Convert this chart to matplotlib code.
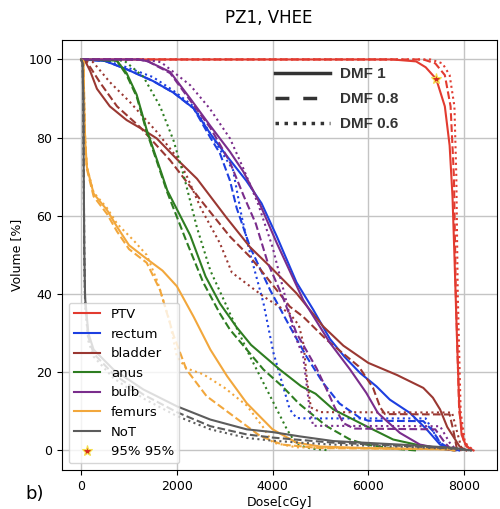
import matplotlib
matplotlib.use('Agg')
import matplotlib.pyplot as plt
from matplotlib.lines import Line2D

# DVH curves: dose [cGy] and volume [%] for DMF 1 / 0.8 / 0.6
ptv_d1 = [0, 6500, 7000, 7200, 7420, 7600, 7700, 7760, 7800, 7850, 7900, 7950, 8050, 8200]
ptv_v1 = [100, 100, 99.5, 98, 95, 88, 78, 65, 50, 30, 12, 4, 1, 0]
ptv_d08 = [0, 7150, 7400, 7600, 7720, 7790, 7830, 7900, 8000, 8150]
ptv_v08 = [100, 100, 99, 96, 88, 70, 40, 10, 2, 0]
ptv_d06 = [0, 7300, 7550, 7700, 7800, 7840, 7870, 7930, 8020, 8200]
ptv_v06 = [100, 100, 99, 96, 88, 70, 40, 10, 2, 0]

rectum_d1 = [0, 500, 950, 1500, 1930, 2350, 2700, 3000, 3450, 3770, 4090, 4500, 4850, 5200, 5500, 5830, 6170, 6450, 6870, 7220, 7500, 7700, 7900]
rectum_v1 = [100, 99.6, 97.5, 94.5, 91.5, 87.5, 81, 76, 69, 63.2, 54.7, 43, 36, 28.5, 24, 19.8, 16.4, 13, 9.6, 5.4, 1.5, 0.6, 0]
rectum_d08 = [0, 500, 950, 1500, 1930, 2350, 2700, 2900, 3110, 3250, 3530, 3950, 4360, 4710, 5060, 5400, 5830, 6000, 7150, 7350, 7500, 7700, 7850]
rectum_v08 = [100, 99.6, 97.5, 94.5, 91.5, 87.5, 80, 76, 69, 62, 52, 41, 31.7, 24, 17.2, 12, 8.3, 7.6, 7.5, 5, 2, 0.5, 0]
rectum_d06 = [0, 500, 950, 1500, 1930, 2350, 2700, 2900, 3175, 3355, 3530, 3810, 4020, 4220, 4360, 4500, 4700, 7200, 7350, 7550, 7750]
rectum_v06 = [100, 99.8, 98, 95.5, 92, 88, 81, 77, 71.7, 59.8, 50.4, 37.7, 24.9, 16.4, 10.5, 8.3, 8.2, 8.2, 5, 1, 0]

bladder_d1 = [0, 80, 190, 330, 600, 950, 1300, 1580, 2000, 2420, 3040, 3530, 3950, 4500, 5060, 5480, 6000, 6600, 7150, 7350, 7500, 7650, 7780, 7910, 8050]
bladder_v1 = [100, 99.7, 97, 92.5, 88, 84.5, 82, 79.8, 74.5, 69.5, 59.5, 52, 47, 40.2, 31.7, 26.8, 22.4, 19.3, 16, 13.5, 10.5, 6, 3.5, 1, 0]
bladder_d08 = [0, 100, 190, 400, 750, 1230, 1860, 2500, 3110, 3530, 3810, 4360, 4640, 5130, 5800, 6100, 6250, 6350, 7700, 7780, 7850, 7950]
bladder_v08 = [100, 99.5, 98, 94, 88, 82.7, 74.2, 64, 54.7, 49.5, 45.3, 36.8, 34.2, 28.3, 21.5, 16, 11, 9.3, 9.2, 5, 0.5, 0]
bladder_d06 = [0, 250, 600, 1020, 1580, 2000, 2200, 2500, 2900, 3150, 3810, 4360, 4550, 4650, 4720, 4800, 5000, 7750, 7850, 7950, 8050]
bladder_v06 = [100, 99.3, 94.2, 89.1, 81.5, 75, 70.4, 62, 53, 45.5, 39.4, 35, 32, 27, 18, 11, 9.8, 9.7, 5, 0.5, 0]

anus_d1 = [0, 745, 950, 1160, 1370, 1580, 1800, 2280, 2600, 2900, 3250, 3550, 4150, 4600, 4900, 5270, 5960, 6520, 7000, 7500, 7800]
anus_v1 = [100, 99.7, 96.5, 91, 82, 74.5, 66.5, 55, 44.5, 37.6, 31.5, 27, 20.7, 16.4, 14.5, 10.5, 6.2, 2.8, 1.5, 0.5, 0]
anus_d08 = [0, 745, 950, 1160, 1370, 1580, 1800, 2200, 2550, 2900, 3110, 3460, 3810, 4220, 4550, 5130, 5620, 5960, 6500, 7000]
anus_v08 = [100, 99.7, 96, 90.5, 81.5, 74, 66, 53.5, 43, 35, 30.9, 25.8, 20.7, 16.2, 12, 6.2, 2.8, 1.5, 0.5, 0]
anus_d06 = [0, 900, 1300, 1650, 1930, 2140, 2420, 2700, 3000, 3110, 3530, 3950, 4300, 4500, 4800, 5200]
anus_v06 = [100, 99.7, 95.6, 88, 79.3, 70.5, 57, 46, 38, 35, 24, 13.9, 5.4, 1.5, 0.5, 0]

bulb_d1 = [0, 1200, 1400, 1860, 2280, 2700, 3110, 3390, 3700, 4090, 4640, 5200, 5620, 5960, 6200, 6660, 7080, 7500, 7800]
bulb_v1 = [100, 100, 99.5, 96.8, 90, 83, 76.4, 71.3, 64, 53, 38.5, 27.5, 20.7, 14.7, 9.6, 4.5, 1.5, 0.5, 0]
bulb_d08 = [0, 1200, 1400, 1860, 2280, 2700, 3100, 3400, 3650, 3900, 4220, 4500, 4920, 5130, 5300, 5480, 5700, 7400, 7600, 7750]
bulb_v08 = [100, 100, 99.5, 96.5, 89.5, 82.5, 74, 65, 58, 48, 39, 30, 21, 15.6, 11, 7, 5.6, 5.4, 2, 0]
bulb_d06 = [0, 1300, 1670, 2280, 2690, 3110, 3390, 3700, 4000, 4250, 4450, 4640, 4720, 4780, 4850, 7500, 7700, 7850]
bulb_v06 = [100, 100, 99.3, 93.4, 87.4, 79.8, 72.1, 63, 52, 40, 30, 24, 16, 10, 6.3, 6.2, 2, 0]

femurs_d1 = [0, 50, 65, 85, 120, 260, 540, 750, 1000, 1370, 1700, 2000, 2350, 2700, 3050, 3460, 4000, 4500, 5000, 6000, 7700, 7800]
femurs_v1 = [100, 99.5, 88, 79, 72.5, 65.7, 61.5, 57.2, 52.5, 49, 46, 42, 34.2, 25.8, 19, 12.1, 5.4, 2, 1, 0.6, 0.3, 0]
femurs_d08 = [0, 50, 65, 85, 120, 260, 540, 750, 1000, 1370, 1650, 1930, 2200, 2620, 3180, 3740, 4200, 5000, 7700, 7800]
femurs_v08 = [100, 99.5, 88, 79, 72, 65, 60.5, 56, 51.5, 48, 41, 29.5, 20.7, 13.9, 8.8, 3.7, 1.5, 0.6, 0.3, 0]
femurs_d06 = [0, 50, 65, 85, 120, 260, 540, 750, 1090, 1370, 1600, 1850, 2000, 2200, 2550, 3000, 3460, 3800, 4000, 4500, 7700, 7800]
femurs_v06 = [100, 99.5, 88, 79, 72.5, 66, 62, 58, 53.8, 50, 43, 33, 24, 21, 19.5, 16, 11.5, 6, 2, 0.8, 0.3, 0]

not_d = [0, 30, 45, 55, 65, 83, 150, 260, 675, 1300, 2000, 2700, 3460, 4000, 4570, 5270, 6660, 7770, 8150]
not_v1 = [100, 99, 90, 70, 52, 39, 30, 25.8, 20.7, 15.6, 11.3, 7.9, 5.4, 4.7, 3.6, 2.4, 1.5, 0.7, 0]
not_v08 = [100, 99, 90, 70, 51, 38, 29, 24.8, 19.5, 14.3, 9.8, 6.2, 4.1, 3.3, 2.7, 2, 1.2, 0.5, 0]
not_v06 = [100, 99, 90, 70, 50, 37, 28, 24, 18.5, 13.3, 8.8, 5.4, 3.2, 2.5, 2, 1.5, 1, 0.4, 0]

structures = ['PTV', 'rectum', 'bladder', 'anus', 'bulb', 'femurs', 'NoT']
colors = ['#e23b30', '#1d3fe0', '#9a3832', '#2e7d21', '#7a2d8c', '#f2a73c', '#5c5c5c']
dmf_labels = ['DMF 1', 'DMF 0.8', 'DMF 0.6']
star_dose = 7410
star_vol = 95

curves = {
    'PTV': [(ptv_d1, ptv_v1), (ptv_d08, ptv_v08), (ptv_d06, ptv_v06)],
    'rectum': [(rectum_d1, rectum_v1), (rectum_d08, rectum_v08), (rectum_d06, rectum_v06)],
    'bladder': [(bladder_d1, bladder_v1), (bladder_d08, bladder_v08), (bladder_d06, bladder_v06)],
    'anus': [(anus_d1, anus_v1), (anus_d08, anus_v08), (anus_d06, anus_v06)],
    'bulb': [(bulb_d1, bulb_v1), (bulb_d08, bulb_v08), (bulb_d06, bulb_v06)],
    'femurs': [(femurs_d1, femurs_v1), (femurs_d08, femurs_v08), (femurs_d06, femurs_v06)],
    'NoT': [(not_d, not_v1), (not_d, not_v08), (not_d, not_v06)],
}
styles = ['-', '--', ':']

fig = plt.figure(figsize=(5.0, 5.09), dpi=100)
ax = fig.add_axes([0.124, 0.0766, 0.87, 0.845])

handles = []
for name, color in zip(structures, colors):
    for (d, v), ls in zip(curves[name], styles):
        line, = ax.plot(d, v, color=color, linestyle=ls, lw=1.5)
        if ls == '-':
            line.set_label(name)
            handles.append(line)

star, = ax.plot([star_dose], [star_vol], linestyle='none', marker='*', markersize=8,
                markerfacecolor='#d42a20', markeredgecolor='#f5e04a', markeredgewidth=0.8,
                label='95% 95%')
handles.append(star)

ax.set_xlim(-400, 8690)
ax.set_ylim(-5, 105)
ax.set_xticks([0, 2000, 4000, 6000, 8000])
ax.set_yticks([0, 20, 40, 60, 80, 100])
ax.tick_params(labelsize=9)
ax.grid(True, color='#c4c4c4', lw=1.0)
ax.set_axisbelow(True)
ax.set_xlabel('Dose[cGy]', fontsize=9, labelpad=2)
ax.set_ylabel('Volume [%]', fontsize=9)

leg1 = ax.legend(handles=handles, loc='lower left', fontsize=9.5)
ax.add_artist(leg1)

dmf_handles = [
    Line2D([], [], color='#333333', lw=2.5, linestyle='-'),
    Line2D([], [], color='#333333', lw=2.5, linestyle=(0, (4, 4))),
    Line2D([], [], color='#333333', lw=2.5, linestyle=(0, (1, 1.6))),
]
ax.legend(dmf_handles, dmf_labels, loc='upper left', bbox_to_anchor=(0.4897, 0.937),
          frameon=False, borderpad=0, borderaxespad=0, handlelength=3.6, handletextpad=0.65,
          labelspacing=0.72, prop={'family': 'Liberation Sans', 'weight': 'bold', 'size': 11},
          labelcolor='#333333')

fig.text(0.538, 0.9637, 'PZ1, VHEE', ha='center', va='center', fontsize=12)
fig.text(0.07, 0.0295, 'b)', ha='center', va='center', fontsize=13)

plt.savefig('out.png', dpi=100)
